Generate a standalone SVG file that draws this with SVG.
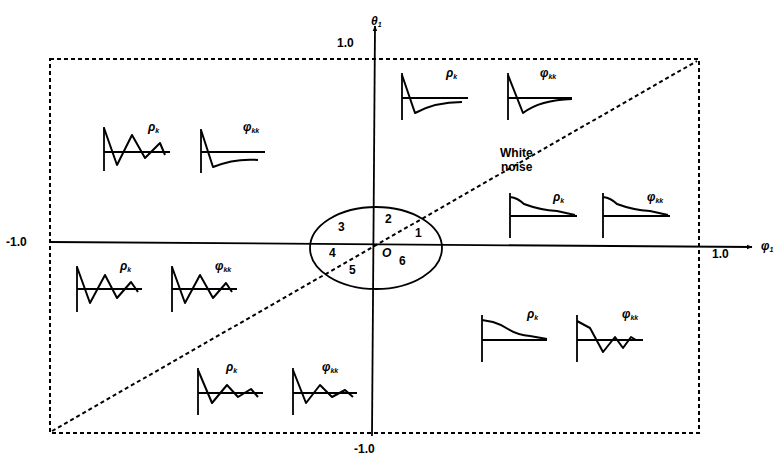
<svg xmlns="http://www.w3.org/2000/svg" width="775" height="455" viewBox="0 0 775 455">
<defs>
<marker id="ah" viewBox="0 0 10 10" refX="9" refY="5" markerWidth="6" markerHeight="6" orient="auto" markerUnits="userSpaceOnUse">
<path d="M0,1 L10,5 L0,9 Z" fill="#000"/>
</marker>
<style>
.dash{fill:none;stroke:#000;stroke-width:2;stroke-dasharray:4 3}
.axis{fill:none;stroke:#000;stroke-width:1.8}
.ic{fill:none;stroke:#000;stroke-width:1.8;stroke-linejoin:round}
.cv{fill:none;stroke:#000;stroke-width:2;stroke-linejoin:round}
.t{font-family:"Liberation Sans",Arial,sans-serif;font-weight:bold;font-size:12px;fill:#000}
.lb{font-family:"Liberation Sans",Arial,sans-serif;font-weight:bold;font-style:italic;font-size:12px;fill:#000}
.sub{font-size:7px}
</style>
</defs>
<rect width="775" height="455" fill="#fff"/>
<g id="connectors">
<rect class="dash" x="50" y="59" width="649" height="374"/>
<line class="dash" x1="52" y1="431" x2="697" y2="61"/>
<line class="axis" x1="50" y1="242" x2="752" y2="247" marker-end="url(#ah)"/>
<line class="axis" x1="372" y1="436" x2="375" y2="26" marker-end="url(#ah)"/>
</g>
<g id="axis-labels">
<text class="t" x="337" y="47" font-size="13">1.0</text>
<text class="lb" x="371" y="25" font-size="14">θ<tspan class="sub" dy="2">1</tspan></text>
<text class="t" x="6" y="246" font-size="13">-1.0</text>
<text class="t" x="712" y="258" font-size="13">1.0</text>
<text class="lb" x="761" y="250" font-size="13">φ<tspan class="sub" dy="2">1</tspan></text>
<text class="t" x="354" y="453" font-size="13">-1.0</text>
<text class="t" x="500" y="157" font-size="10.5">White</text>
<text class="t" x="501" y="171" font-size="10.5">noise</text>
</g>
<g id="region-ellipse">
<ellipse cx="376" cy="248" rx="66" ry="41" fill="none" stroke="#000" stroke-width="1.8"/>
<text class="t" x="338" y="231" font-size="11">3</text>
<text class="t" x="385" y="223" font-size="11">2</text>
<text class="t" x="415" y="237" font-size="11">1</text>
<text class="t" x="329" y="257" font-size="11">4</text>
<text class="lb" x="382" y="257" font-size="12">O</text>
<text class="t" x="399" y="265" font-size="11">6</text>
<text class="t" x="349" y="274" font-size="11">5</text>
</g>
<g id="tl-rho">
<path class="ic" d="M104,127 V171 M104,152 H170"/>
<path class="cv" d="M104,128 L117,165 L132,135 L145,158 L160,143 L165,155"/>
<text class="lb" x="148" y="131">ρ<tspan class="sub" dy="2">k</tspan></text>
</g>
<g id="tl-phi">
<path class="ic" d="M201,129 V173 M201,152 H265"/>
<path class="cv" d="M201,130 L213,167 Q235,158 258,160"/>
<text class="lb" x="243" y="131">φ<tspan class="sub" dy="2">kk</tspan></text>
</g>
<g id="tr-rho">
<path class="ic" d="M402,73 V120 M402,98 H468"/>
<path class="cv" d="M402,75 L415,113 Q435,102 462,102"/>
<text class="lb" x="446" y="77">ρ<tspan class="sub" dy="2">k</tspan></text>
</g>
<g id="tr-phi">
<path class="ic" d="M508,73 V120 M508,98 H572"/>
<path class="cv" d="M508,75 L523,113 Q540,100 572,99"/>
<text class="lb" x="540" y="77">φ<tspan class="sub" dy="2">kk</tspan></text>
</g>
<g id="r-rho">
<path class="ic" d="M510,193 V238 M510,216 H577"/>
<path class="cv" d="M510,197 Q518,198 524,204 Q540,210 557,211 L575,215"/>
<text class="lb" x="553" y="201">ρ<tspan class="sub" dy="2">k</tspan></text>
</g>
<g id="r-phi">
<path class="ic" d="M603,193 V238 M603,216 H670"/>
<path class="cv" d="M603,197 Q611,198 617,204 Q633,210 650,211 L668,215"/>
<text class="lb" x="647" y="201">φ<tspan class="sub" dy="2">kk</tspan></text>
</g>
<g id="bl-rho">
<path class="ic" d="M77,266 V312 M77,289 H142"/>
<path class="cv" d="M77,267 L90,303 L105,275 L117,298 L131,282 L138,292"/>
<text class="lb" x="120" y="270">ρ<tspan class="sub" dy="2">k</tspan></text>
</g>
<g id="bl-phi">
<path class="ic" d="M172,266 V312 M172,289 H237"/>
<path class="cv" d="M172,267 L185,303 L200,275 L213,298 L226,283 L232,292"/>
<text class="lb" x="215" y="270">φ<tspan class="sub" dy="2">kk</tspan></text>
</g>
<g id="br-rho">
<path class="ic" d="M482,315 V362 M482,340 H547"/>
<path class="cv" d="M482,320 L493,322 Q500,324 508,329 Q518,335 530,336 L547,339"/>
<text class="lb" x="527" y="318">ρ<tspan class="sub" dy="2">k</tspan></text>
</g>
<g id="br-phi">
<path class="ic" d="M577,315 V362 M577,340 H643"/>
<path class="cv" d="M577,321 L590,328 L603,352 L615,337 L623,348 L631,337 L636,340"/>
<text class="lb" x="622" y="318">φ<tspan class="sub" dy="2">kk</tspan></text>
</g>
<g id="b-rho">
<path class="ic" d="M198,368 V415 M198,393 H263"/>
<path class="cv" d="M198,370 L212,403 L227,385 L238,397 L251,389 L258,397"/>
<text class="lb" x="226" y="371">ρ<tspan class="sub" dy="2">k</tspan></text>
</g>
<g id="b-phi">
<path class="ic" d="M293,368 V415 M293,393 H357"/>
<path class="cv" d="M293,370 L306,403 L320,385 L332,397 L345,390 L353,397"/>
<text class="lb" x="322" y="371">φ<tspan class="sub" dy="2">kk</tspan></text>
</g>
</svg>
